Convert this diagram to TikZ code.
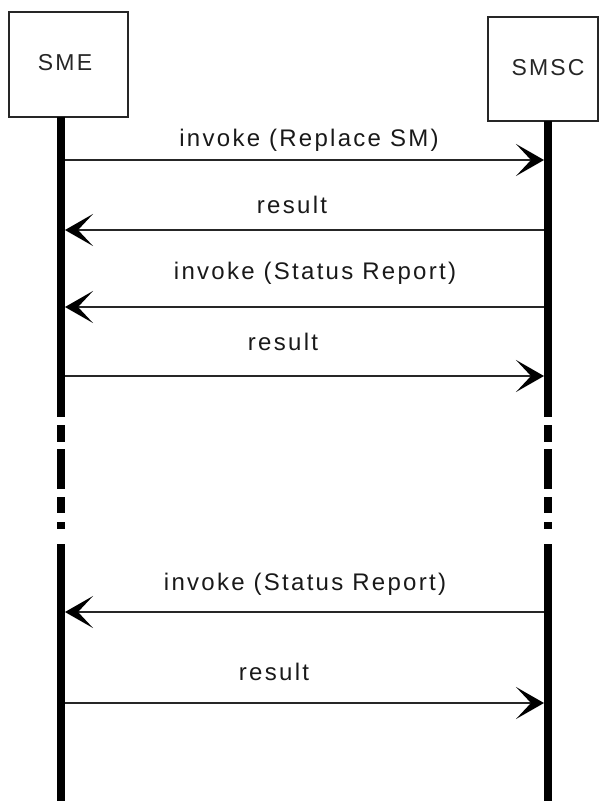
\documentclass[tikz,border=0pt]{standalone}
\usepackage{fontspec}
\setmainfont{Liberation Sans}[LetterSpace=9.5]
\usetikzlibrary{arrows.meta}
\tikzset{
  actorbox/.style={draw=black!85, line width=1.2pt},
  actorlabel/.style={font=\fontsize{23}{26}\selectfont, anchor=base, inner sep=0pt, text=black!85},
  lifeline/.style={line width=8pt, black},
  msg/.style={line width=1.3pt, black!85, -{Stealth[length=28pt, width=32pt, inset=15pt, black]}},
  msglabel/.style={font=\fontsize{24}{27}\selectfont, anchor=base, inner sep=0pt, text=black!90},
}
\begin{document}
\begin{tikzpicture}[x=1pt, y=-1pt]
\useasboundingbox (0,0) rectangle (599,801);
% actor boxes
\draw[actorbox] (9,12) rectangle (128,117);
\node[actorlabel] (sme) at (65,70) {SME};
\draw[actorbox] (488,17) rectangle (598,121);
\node[actorlabel] (smsc) at (548,75) {SMSC};
% lifeline coordinates
\coordinate (Lt) at (61,117);
\coordinate (Rt) at (548,121);
\coordinate (Lb) at (61,801);
\coordinate (Rb) at (548,801);
% lifelines with broken section
\foreach \x/\top in {61/117, 548/121} {
  \draw[lifeline] (\x,\top) -- (\x,417);
  \draw[lifeline] (\x,425) -- (\x,442);
  \draw[lifeline] (\x,449) -- (\x,489);
  \draw[lifeline] (\x,497) -- (\x,513);
  \draw[lifeline] (\x,522) -- (\x,529);
  \draw[lifeline] (\x,544) -- (\x,801);
}
% message end points
\foreach \n/\y in {1/160, 2/230, 3/307, 4/376, 5/612, 6/703} {
  \coordinate (L\n) at (65,\y);
  \coordinate (R\n) at (544,\y);
}
% messages
\draw[msg] (L1) -- (R1);
\draw[msg] (R2) -- (L2);
\draw[msg] (R3) -- (L3);
\draw[msg] (L4) -- (R4);
\draw[msg] (R5) -- (L5);
\draw[msg] (L6) -- (R6);
% labels
\node[msglabel] (m1) at (309,146) {invoke (Replace SM)};
\node[msglabel] (m2) at (292,213) {result};
\node[msglabel] (m3) at (315,279) {invoke (Status Report)};
\node[msglabel] (m4) at (283,350) {result};
\node[msglabel] (m5) at (305,590) {invoke (Status Report)};
\node[msglabel] (m6) at (274,680) {result};
\end{tikzpicture}
\end{document}
